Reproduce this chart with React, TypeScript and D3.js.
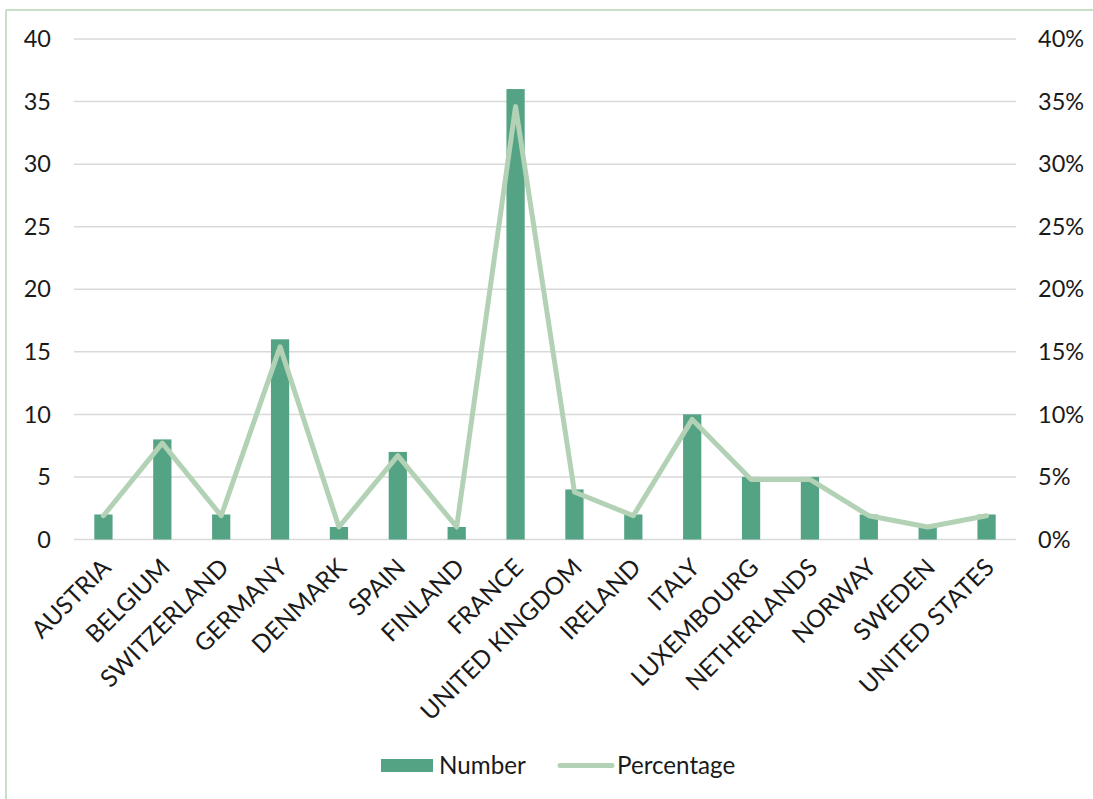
import React from "react";
import * as d3 from "d3";

const categories = ["AUSTRIA","BELGIUM","SWITZERLAND","GERMANY","DENMARK","SPAIN","FINLAND","FRANCE","UNITED KINGDOM","IRELAND","ITALY","LUXEMBOURG","NETHERLANDS","NORWAY","SWEDEN","UNITED STATES"];
const numbers = [2,8,2,16,1,7,1,36,4,2,10,5,5,2,1,2];
const percentages = [1.9,7.7,1.9,15.4,1.0,6.7,1.0,34.6,3.8,1.9,9.6,4.8,4.8,1.9,1.0,1.9];
const leftTicks = [0,5,10,15,20,25,30,35,40];
const rightTicks = [0,5,10,15,20,25,30,35,40];

const W = 1093, H = 799;
const plotLeft = 74, plotRight = 1016, plotTop = 39, plotBottom = 539.5;
const font = "Lato, 'Open Sans', sans-serif";
const barColor = "#55a385";
const lineColor = "#b3d2b5";
const fs = 23.5;
const xfs = 24.3;
const lfs = 24.2;

export default function App() {
  const x = d3.scaleBand<string>().domain(categories).range([plotLeft, plotRight]).paddingInner(0.69).paddingOuter(0.345);
  const yL = d3.scaleLinear().domain([0, 40]).range([plotBottom, plotTop]);
  const yR = d3.scaleLinear().domain([0, 40]).range([plotBottom, plotTop]);
  const cx = (c: string) => (x(c) as number) + x.bandwidth() / 2;
  const line = d3.line<number>().x((_, i) => cx(categories[i])).y((d) => yR(d));
  return (
    <div style={{ position: "absolute", left: 0, top: 0 }}>
      <svg width={W} height={H} style={{ display: "block" }}>
        <rect x={0} y={0} width={W} height={H} fill="#fff" />
        <line x1={6} x2={W} y1={10} y2={10} stroke="#b5d3b7" strokeWidth={1.5} />
        <line x1={6} x2={6} y1={10} y2={H} stroke="#b5d3b7" strokeWidth={1.5} />
        {leftTicks.map((t) => (
          <line key={t} x1={plotLeft} x2={plotRight} y1={yL(t)} y2={yL(t)} stroke="#d9d9d9" strokeWidth={1.5} />
        ))}
        {leftTicks.map((t) => (
          <text key={"l" + t} x={51} y={yL(t)} dy="0.35em" textAnchor="end" fontFamily={font} fontSize={fs} fill="#1a1a1a">{t}</text>
        ))}
        {rightTicks.map((t) => (
          <text key={"r" + t} x={1038} y={yR(t)} dy="0.35em" textAnchor="start" fontFamily={font} fontSize={fs} fill="#1a1a1a">{t + "%"}</text>
        ))}
        {categories.map((c, i) => (
          <rect key={c} x={x(c)} y={yL(numbers[i])} width={x.bandwidth()} height={plotBottom - yL(numbers[i])} fill={barColor} />
        ))}
        <path d={line(percentages) || ""} fill="none" stroke={lineColor} strokeWidth={5} strokeLinejoin="round" strokeLinecap="round" />
        {categories.map((c) => (
          <text key={"x" + c} transform={`translate(${cx(c) + 3},${563}) rotate(-45)`} textAnchor="end" fontFamily={font} fontSize={xfs} fill="#1a1a1a" dy="0.35em">{c}</text>
        ))}
        <rect x={381} y={759} width={52} height={13} fill={barColor} />
        <text x={439} y={766} dy="0.35em" fontFamily={font} fontSize={lfs} fill="#1a1a1a">Number</text>
        <line x1={560} x2={612} y1={765.5} y2={765.5} stroke={lineColor} strokeWidth={5} strokeLinecap="round" />
        <text x={617} y={766} dy="0.35em" fontFamily={font} fontSize={lfs} fill="#1a1a1a">Percentage</text>
      </svg>
    </div>
  );
}
